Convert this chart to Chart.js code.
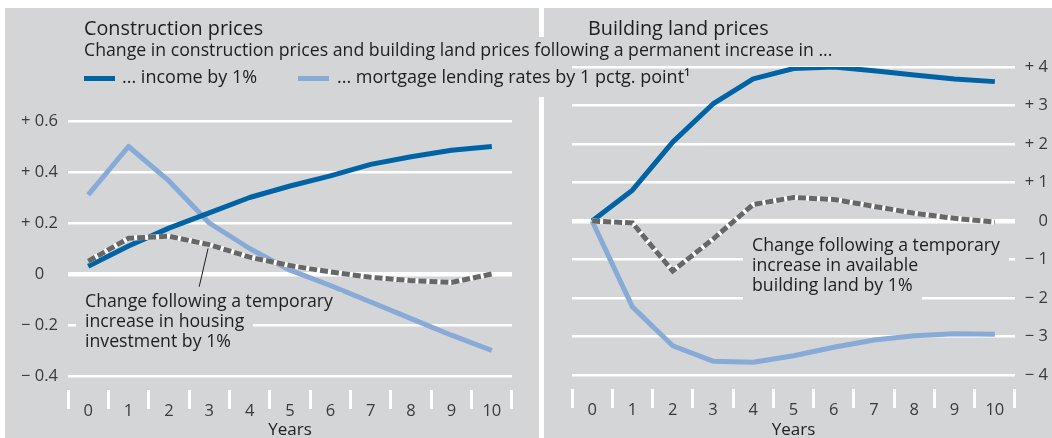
<!DOCTYPE html>
<html><head><meta charset="utf-8">
<script src="https://cdn.jsdelivr.net/npm/chart.js@4.4.1/dist/chart.umd.min.js"></script>
<style>
html,body{margin:0;padding:0;background:#fff;}
body{width:1052px;height:438px;position:relative;overflow:hidden;font-family:"Open Sans",sans-serif;color:#222;}
#bg{position:absolute;left:5px;top:8px;width:1047px;height:430px;background:#d4d5d7;}
.sep{position:absolute;left:539px;width:5px;background:#fff;}
canvas{position:absolute;top:0;}
.t{position:absolute;white-space:nowrap;line-height:1;}
.title{font-size:19.8px;color:#1e1e1e;}
.sub{font-size:17.7px;color:#1e1e1e;}
.leg{font-size:18px;color:#1e1e1e;}
.sw{position:absolute;height:5px;}
.ann{position:absolute;z-index:1;font-size:17.7px;line-height:20px;color:#1e1e1e;white-space:nowrap;}
.ann div{position:relative;width:max-content;}
.ann div::before{content:'';position:absolute;left:-9px;right:-9px;top:2px;bottom:-8px;background:#d4d5d7;z-index:-1;}
</style></head>
<body>
<div id="bg"></div>
<div class="sep" style="top:8px;height:29px"></div>
<div class="sep" style="top:97px;height:341px"></div>
<canvas id="left" width="540" height="438" style="left:0"></canvas>
<canvas id="right" width="508" height="438" style="left:544px"></canvas>
<div class="t title" style="left:84px;top:17.5px">Construction prices</div>
<div class="t title" style="left:588px;top:17.5px">Building land prices</div>
<div class="t sub" style="left:84px;top:41.3px">Change in construction prices and building land prices following a permanent increase in ...</div>
<div class="sw" style="left:84px;top:76px;width:31px;background:#0063a5"></div>
<div class="t leg" style="left:122px;top:67px">... income by 1%</div>
<div class="sw" style="left:298px;top:76px;width:31px;background:#87aad6"></div>
<div class="t leg" style="left:337px;top:67px">... mortgage lending rates by 1 pctg. point¹</div>
<div class="ann" style="left:85px;top:290px"><div>Change following a temporary</div><div>increase in housing</div><div>investment by 1%</div></div>
<div class="ann" style="left:752px;top:234px"><div>Change following a temporary</div><div>increase in available</div><div>building land by 1%</div></div>
<script>
const years = ['0','1','2','3','4','5','6','7','8','9','10'];

// Construction prices (left panel)
const constIncome   = [0.03, 0.11, 0.18, 0.24, 0.30, 0.345, 0.385, 0.43, 0.46, 0.485, 0.50];
const constMortgage = [0.31, 0.50, 0.365, 0.20, 0.10, 0.015, -0.045, -0.11, -0.175, -0.24, -0.30];
const constHousing  = [0.05, 0.14, 0.148, 0.115, 0.066, 0.033, 0.008, -0.013, -0.026, -0.033, 0.0];
const leftTickValues = [-0.4, -0.2, 0, 0.2, 0.4, 0.6];
const leftTickLabels = ['\u2212 0.4', '\u2212 0.2', '0', '+ 0.2', '+ 0.4', '+ 0.6'];

// Building land prices (right panel)
const landIncome   = [0, 0.8, 2.05, 3.04, 3.69, 3.96, 4.0, 3.9, 3.79, 3.69, 3.62];
const landMortgage = [0, -2.23, -3.24, -3.64, -3.67, -3.5, -3.28, -3.09, -2.98, -2.93, -2.94];
const landSupply   = [0, -0.05, -1.3, -0.47, 0.43, 0.61, 0.56, 0.38, 0.2, 0.07, -0.03];
const rightTickValues = [-4, -3, -2, -1, 0, 1, 2, 3, 4];
const rightTickLabels = ['\u2212 4', '\u2212 3', '\u2212 2', '\u2212 1', '0', '+ 1', '+ 2', '+ 3', '+ 4'];

const DARK = '#0063a5', LIGHT = '#87aad6', DASH = '#676767';
const FONT = '"Open Sans", sans-serif';
const TICK_COLOR = '#3a3a3a';

const separators = {
  id: 'separators',
  afterDraw(chart) {
    const x = chart.scales.x, ctx = chart.ctx, area = chart.chartArea;
    const step = x.getPixelForValue(1) - x.getPixelForValue(0);
    ctx.save();
    ctx.fillStyle = '#ffffff';
    for (let i = 0; i <= years.length; i++) {
      const px = x.getPixelForValue(0) + (i - 0.5) * step;
      ctx.fillRect(Math.round(px - 1.5), area.bottom + 14, 3, 19);
    }
    ctx.restore();
  }
};

function pointerPlugin(from, to) {
  return {
    id: 'pointer',
    afterDatasetsDraw(chart) {
      const {x, y} = chart.scales, ctx = chart.ctx;
      ctx.save();
      ctx.strokeStyle = '#1e1e1e';
      ctx.lineWidth = 1;
      ctx.beginPath();
      ctx.moveTo(x.getPixelForValue(from[0]), y.getPixelForValue(from[1]));
      ctx.lineTo(x.getPixelForValue(to[0]), y.getPixelForValue(to[1]));
      ctx.stroke();
      ctx.restore();
    }
  };
}

function datasets(income, mortgage, temp) {
  const base = {pointRadius: 0, tension: 0, borderJoinStyle: 'round', fill: false, borderWidth: 5};
  return [
    Object.assign({}, base, {label: 'temp', data: temp, borderColor: DASH, borderDash: [8, 3], borderCapStyle: 'butt', borderJoinStyle: 'miter'}),
    Object.assign({}, base, {label: 'temp-under', data: temp, borderColor: '#ffffff', borderJoinStyle: 'miter'}),
    Object.assign({}, base, {label: 'income', data: income, borderColor: DARK}),
    Object.assign({}, base, {label: 'mortgage', data: mortgage, borderColor: LIGHT})
  ];
}

function makeChart(id, cfg) {
  const yScale = {
    position: cfg.yPos,
    min: cfg.tickValues[0],
    max: cfg.tickValues[cfg.tickValues.length - 1],
    afterBuildTicks: s => { s.ticks = cfg.tickValues.map(v => ({value: v})); },
    afterFit: s => { s.width = cfg.yWidth; },
    border: {display: false},
    grid: {
      color: '#ffffff',
      drawTicks: false,
      lineWidth: c => (c.tick && c.tick.value === 0) ? 4.5 : 2.5
    },
    ticks: {
      color: TICK_COLOR,
      font: {family: FONT, size: 16.5},
      padding: cfg.yPad,
      crossAlign: cfg.crossAlign,
      callback: (v, i) => cfg.tickLabels[i]
    }
  };
  return new Chart(document.getElementById(id), {
    type: 'line',
    data: {labels: years, datasets: datasets(cfg.income, cfg.mortgage, cfg.temp)},
    options: {
      responsive: false,
      animation: false,
      devicePixelRatio: 1,
      layout: {padding: cfg.padding},
      plugins: {legend: {display: false}, tooltip: {enabled: false}},
      scales: {
        x: {
          type: 'category',
          offset: true,
          afterFit: s => { s.height = cfg.xHeight; },
          border: {display: false},
          grid: {display: false},
          ticks: {color: TICK_COLOR, font: {family: FONT, size: 16.5}, padding: 17, maxRotation: 0, autoSkip: false},
          title: {display: true, text: 'Years', color: '#1e1e1e', font: {family: FONT, size: 17}, padding: {top: 0, bottom: -2}}
        },
        y: yScale
      }
    },
    plugins: cfg.plugins
  });
}

makeChart('left', {
  income: constIncome, mortgage: constMortgage, temp: constHousing,
  tickValues: leftTickValues, tickLabels: leftTickLabels,
  yPos: 'left', yWidth: 60, yPad: 10, crossAlign: 'center',
  padding: {left: 8, right: 28, top: 121, bottom: 0}, xHeight: 62,
  plugins: [separators, pointerPlugin([2.97, 0.10], [2.75, -0.05])]
});

makeChart('right', {
  income: landIncome, mortgage: landMortgage, temp: landSupply,
  tickValues: rightTickValues, tickLabels: rightTickLabels,
  yPos: 'right', yWidth: 33, yPad: 8, crossAlign: 'far',
  padding: {left: 28, right: 4, top: 67, bottom: 0}, xHeight: 63,
  plugins: [separators]
});
</script>
</body></html>
